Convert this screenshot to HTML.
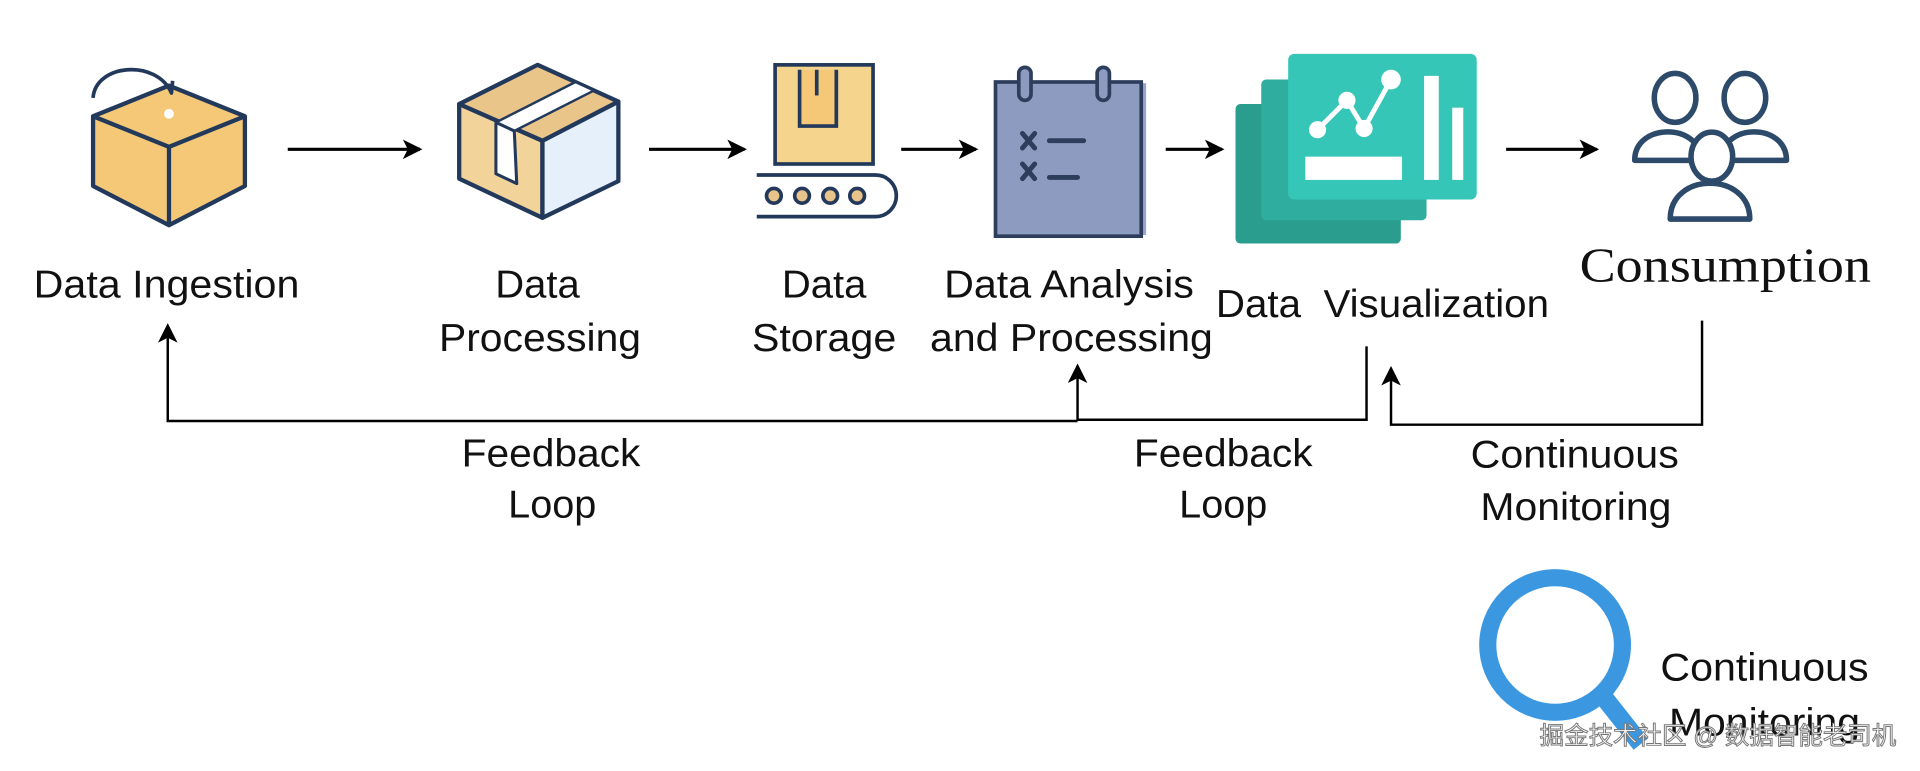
<!DOCTYPE html>
<html><head><meta charset="utf-8"><style>
html,body{margin:0;padding:0;background:#fff;}
svg{display:block;}
text{font-family:"Liberation Sans",sans-serif;fill:#111;}
</style></head><body>
<svg width="1920" height="771" viewBox="0 0 1568 630" preserveAspectRatio="none" xmlns="http://www.w3.org/2000/svg">
<defs>
<marker id="ah2" markerWidth="16" markerHeight="16" refX="14" refY="8" orient="auto" markerUnits="userSpaceOnUse">
<path d="M0,0 L16,8 L0,16 L4,8 Z" fill="#000"/></marker>
</defs>
<!-- Cube 1 -->
<g stroke="#23395b" stroke-width="3.5" stroke-linejoin="round">
<path d="M138,70 L200,95 L200,152 L138,184 L76,152 L76,95 Z" fill="#f4c877"/>
<path d="M76,95 L138,120 L200,95 M138,120 L138,184" fill="none"/>
<path d="M76,80 C78,52 128,48 140,76 L141,66" fill="none" stroke-width="3"/>
</g>
<circle cx="138" cy="93" r="4" fill="#fff"/>
<!-- arrows -->
<g stroke="#000" stroke-width="2.5">
<line x1="235" y1="122" x2="343" y2="122" marker-end="url(#ah2)"/>
<line x1="530" y1="122" x2="608" y2="122" marker-end="url(#ah2)"/>
<line x1="736" y1="122" x2="797" y2="122" marker-end="url(#ah2)"/>
<line x1="952" y1="122" x2="998" y2="122" marker-end="url(#ah2)"/>
<line x1="1230" y1="122" x2="1304" y2="122" marker-end="url(#ah2)"/>
</g>
<!-- Box 2 -->
<g stroke="#23395b" stroke-width="3.5" stroke-linejoin="round">
<path d="M375,85 L443,115 L443,178 L375,146 Z" fill="#f2d39a"/>
<path d="M443,115 L505,83 L505,148 L443,178 Z" fill="#e6f0fb"/>
<path d="M375,85 L439,53 L505,83 L443,115 Z" fill="#e9c58a"/>
<path d="M405,100 L470,67 L485,74 L420,107 Z" fill="#fff" stroke-width="2"/>
<path d="M405,100 L420,107 L422,150 L405,142 Z" fill="#fff" stroke-width="2.5"/>
</g>
<!-- Storage -->
<g stroke="#23395b" stroke-width="3" fill="#f5d48e">
<rect x="633" y="53" width="80" height="81"/>
<path d="M653,57 L653,103 L683,103 L683,57" fill="#f4c877"/>
<line x1="667" y1="57" x2="667" y2="78"/>
<path d="M618,143 L715,143 A17,17 0 0 1 715,177 L618,177" fill="none"/>
<circle cx="632" cy="160" r="6" fill="#e8c48a"/>
<circle cx="655" cy="160" r="6" fill="#e8c48a"/>
<circle cx="678" cy="160" r="6" fill="#e8c48a"/>
<circle cx="700" cy="160" r="6" fill="#e8c48a"/>
</g>
<!-- Notepad -->
<rect x="818" y="68" width="118" height="124" fill="#9aa3cc"/>
<rect x="813" y="67" width="119" height="126" fill="#8e9bc1" stroke="#2c3e5c" stroke-width="3"/>
<g stroke="#2c3e5c" stroke-width="3" fill="#8e9bc1">
<rect x="832" y="55" width="10" height="27" rx="5"/>
<rect x="896" y="55" width="10" height="27" rx="5"/>
</g>
<g stroke="#2c3e5c" stroke-width="4" stroke-linecap="round">
<path d="M835,134 L845,146 M845,134 L835,146"/>
<path d="M835,109 L845,121 M845,109 L835,121"/>
<line x1="857" y1="115" x2="885" y2="115"/>
<line x1="857" y1="145" x2="880" y2="145"/>
</g>
<!-- Visualization -->
<rect x="1009" y="85" width="135" height="114" rx="4" fill="#2a9d8f"/>
<rect x="1030" y="65" width="135" height="115" rx="4" fill="#2fae9f"/>
<rect x="1052" y="44" width="154" height="119" rx="5" fill="#35c6b8"/>
<g stroke="#fff" stroke-width="4" fill="#fff">
<polyline points="1076,106 1100,82 1114,105 1136,65" fill="none"/>
<circle cx="1076" cy="106" r="5"/><circle cx="1100" cy="82" r="5"/><circle cx="1114" cy="105" r="5"/><circle cx="1136" cy="65" r="6"/>
</g>
<rect x="1066" y="128" width="79" height="19" fill="#fff"/>
<rect x="1163" y="62" width="12" height="85" fill="#fff"/>
<rect x="1186" y="88" width="9" height="59" fill="#fff"/>
<!-- People -->
<g stroke="#2d4a6a" stroke-width="4.5" fill="#fff" stroke-linejoin="round">
<path d="M1335,131 C1335,100 1389,100 1389,131 Z"/>
<ellipse cx="1368" cy="80" rx="17" ry="20"/>
<path d="M1406,131 C1406,100 1459,100 1459,131 Z"/>
<ellipse cx="1425" cy="80" rx="17" ry="20"/>
<path d="M1364,179 C1364,140 1429,140 1429,179 Z"/>
<ellipse cx="1398" cy="128" rx="17" ry="20"/>
</g>
<!-- Labels -->
<g font-size="32" text-anchor="middle" lengthAdjust="spacingAndGlyphs">
<text x="136" y="243" textLength="217" lengthAdjust="spacingAndGlyphs">Data Ingestion</text>
<text x="439" y="243" textLength="69" lengthAdjust="spacingAndGlyphs">Data</text>
<text x="441" y="287" textLength="165" lengthAdjust="spacingAndGlyphs">Processing</text>
<text x="673" y="243" textLength="69" lengthAdjust="spacingAndGlyphs">Data</text>
<text x="673" y="287" textLength="118" lengthAdjust="spacingAndGlyphs">Storage</text>
<text x="873" y="243" textLength="204" lengthAdjust="spacingAndGlyphs">Data Analysis</text>
<text x="875" y="287" textLength="231" lengthAdjust="spacingAndGlyphs">and Processing</text>
<text x="1129" y="259" textLength="272" lengthAdjust="spacingAndGlyphs" xml:space="preserve">Data  Visualization</text>
<text x="450" y="381" textLength="146" lengthAdjust="spacingAndGlyphs">Feedback</text>
<text x="451" y="423" textLength="72" lengthAdjust="spacingAndGlyphs">Loop</text>
<text x="999" y="381" textLength="146" lengthAdjust="spacingAndGlyphs">Feedback</text>
<text x="999" y="423" textLength="72" lengthAdjust="spacingAndGlyphs">Loop</text>
<text x="1286" y="382" textLength="170" lengthAdjust="spacingAndGlyphs">Continuous</text>
<text x="1287" y="425" textLength="156" lengthAdjust="spacingAndGlyphs">Monitoring</text>
<text x="1441" y="556" textLength="170" lengthAdjust="spacingAndGlyphs">Continuous</text>
<text x="1441" y="601" textLength="156" lengthAdjust="spacingAndGlyphs">Monitoring</text>
</g>
<text x="1409" y="230" font-size="40" text-anchor="middle" textLength="238" lengthAdjust="spacingAndGlyphs" style="font-family:'Liberation Serif',serif">Consumption</text>
<!-- Feedback lines -->
<g stroke="#000" stroke-width="2" fill="none">
<polyline points="880,344 137,344 137,266" marker-end="url(#ah2)"/>
<polyline points="1116,283 1116,343 880,343 880,299" marker-end="url(#ah2)"/>
<polyline points="1390,262 1390,347 1136,347 1136,301" marker-end="url(#ah2)"/>
</g>
<!-- Magnifier -->
<circle cx="1270" cy="527" r="55" fill="none" stroke="#3b97e0" stroke-width="14"/>
<line x1="1310" y1="570" x2="1340" y2="608" stroke="#3b97e0" stroke-width="15"/>
<text x="1403" y="608" text-anchor="middle" font-size="20" style="font-family:'Liberation Sans','Noto Sans CJK SC',sans-serif;fill:#fff;stroke:#777;stroke-width:0.8">掘金技术社区 @ 数据智能老司机</text>
</svg>
</body></html>
